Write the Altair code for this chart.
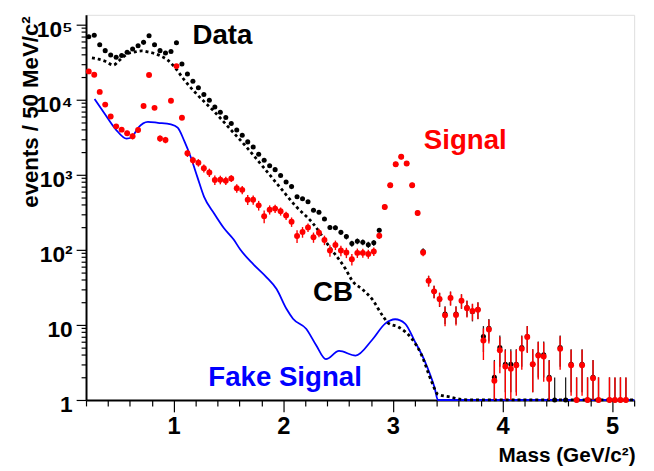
import altair as alt
import pandas as pd

# ---------------- data ----------------
mass = [0.225, 0.275, 0.325, 0.375, 0.425, 0.475, 0.525, 0.575, 0.625, 0.675,
        0.725, 0.775, 0.825, 0.875, 0.925, 0.975, 1.025, 1.075, 1.125, 1.175,
        1.225, 1.275, 1.325, 1.375, 1.425, 1.475, 1.525, 1.575, 1.625, 1.675,
        1.725, 1.775, 1.825, 1.875, 1.925, 1.975, 2.025, 2.075, 2.125, 2.175,
        2.225, 2.275, 2.325, 2.375, 2.425, 2.475, 2.525, 2.575, 2.625, 2.675,
        2.725, 2.775, 2.825, 2.875, 2.925, 2.975, 3.025, 3.075, 3.125, 3.175,
        3.225, 3.275, 3.325, 3.375, 3.425, 3.475, 3.525, 3.575, 3.625, 3.675,
        3.725, 3.775, 3.825, 3.875, 3.925, 3.975, 4.025, 4.075, 4.125, 4.175,
        4.225, 4.275, 4.325, 4.375, 4.425, 4.475, 4.525, 4.575, 4.625, 4.675,
        4.725, 4.775, 4.825, 4.875, 4.925, 4.975, 5.025, 5.075, 5.125, 5.175]

data_counts = [68900, 72300, 54000, 45000, 39400, 36800, 38700, 42800, 47300, 52400,
               58000, 71000, 54000, 45000, 41900, 43700, 57400, 29800, 22000, 17600,
               14400, 11700, 9800, 8000, 6800, 5800, 4830, 3950, 3360, 2740,
               2340, 1870, 1560, 1320, 1170, 980, 800, 695, 510, 480,
               437, 336, 316, 258, 199, 197, 171, 150, 121, 130,
               126, 117, 124, 182, 371, 723, 1380, 1740, 1410, 723,
               310, 95, 39, 28, 22, 14, 23, 14, 21, 17,
               15, 16, 7, 9, 2, 5, 3, 3, 3, 5,
               7, 3, 4, 4, 2, 1, 5, 1, 3, 1,
               3, 1, 2, 1, None, 1, 1, 1, 1, None]

signal_vals = [23800, 21500, 12700, 8600, 5980, 4410, 3990, 3570, 3260, 3950,
               8260, 21300, 7780, 3040, 2910, 9700, 28000, 5740, 1930, 1560,
               1450, 1220, 1070, 851, 859, 834, 894, 660, 629, 465,
               465, 391, 280, 343, 354, 326, 286, 236, 153, 173,
               199, 147, 169, 135, 98, 116, 98, 92, 75, 91,
               91, 88, 95, 154, 371, 723, 1380, 1740, 1410, 723,
               310, 92, 38.6, 28, 22.2, 13.4, 22.9, 13.6, 21, 16.7,
               15.3, 15.9, 6.2, 8.7, 1.8, 4.6, 2.8, 2.6, 2.9, 4.8,
               6.9, 3.0, 3.9, 3.8, 1.9, None, 4.8, None, 2.9, 1,
               2.9, 1, 1.95, 1, None, 1, 1, 1, 1, None]

cb_mass = [0.254, 0.315, 0.375, 0.450, 0.495, 0.540, 0.585, 0.645, 0.705, 0.765,
           0.826, 0.885, 0.946, 1.006, 1.096, 1.216, 1.367, 1.517, 1.667, 1.818,
           1.967, 2.118, 2.268, 2.418, 2.569, 2.629, 2.719, 2.810, 2.914, 2.960,
           3.049, 3.170, 3.260, 3.351, 3.410, 3.531, 3.621, 3.750, 4.000, 4.500,
           5.000, 5.200]
cb_vals = [36000, 34600, 32500, 28900, 32500, 37100, 41100, 43200, 44600, 43200,
           41100, 37900, 33600, 27400, 18300, 11600, 7010, 4030, 2310, 1260,
           687, 375, 227, 111, 55, 38.6, 30, 22, 12.7, 10.5,
           9.4, 6.6, 4.0, 1.78, 1.19, 1.09, 1.02, 1.0, 1.0, 1.0,
           1.0, 1.0]

fake_mass = [0.278, 0.375, 0.471, 0.570, 0.615, 0.675, 0.765, 0.856, 0.975, 1.036,
             1.096, 1.156, 1.216, 1.277, 1.367, 1.457, 1.547, 1.607, 1.727, 1.847,
             1.938, 2.028, 2.088, 2.208, 2.298, 2.388, 2.508, 2.659, 2.809, 2.929,
             3.020, 3.110, 3.200, 3.290, 3.380, 3.410, 3.600, 4.000, 4.500, 5.000,
             5.200]
fake_vals = [10200, 6350, 4030, 3030, 3130, 4230, 5070, 4920, 4690, 4230,
             2830, 1710, 930, 507, 307, 195, 137, 101, 64, 43,
             30, 16.4, 12.1, 8.9, 5.4, 3.5, 4.5, 3.9, 6.3, 10.4,
             11.9, 10.4, 6.0, 3.3, 1.45, 1.0, 1.0, 1.0, 1.0, 1.0,
             1.0]

label_text = ["Data", "Signal", "CB", "Fake Signal"]
label_color = ["#000000", "#ff0000", "#000000", "#0000ff"]
label_mass = [1.171, 3.281, 2.271, 1.315]
label_val = [55000, 2220, 21.1, 1.54]

# ---------------- tables ----------------
assert len(mass) == len(data_counts) == len(signal_vals)
pts = pd.DataFrame({"mass": mass, "data": data_counts, "sig": signal_vals})
cb = pd.DataFrame({"mass": cb_mass, "v": cb_vals})
fake = pd.DataFrame({"mass": fake_mass, "v": fake_vals})
labels = pd.DataFrame({"t": label_text, "c": label_color, "mass": label_mass, "v": label_val})

FONT = "Liberation Sans"

x_ticks = [round(0.2 * k, 1) for k in range(1, 27)]
y_ticks = []
for e in range(0, 6):
    for m in range(1, 10):
        val = m * 10 ** e
        if val <= 135000:
            y_ticks.append(val)

x_axis = alt.Axis(
    values=x_ticks,
    title="Mass (GeV/c\u00b2)",
    titleFont=FONT, titleFontWeight="bold", titleFontSize=21, titleColor="black",
    titleAnchor="end", titleAlign="right", titleBaseline="alphabetic",
    titleX=556, titleY=62,
    labelExpr="abs(datum.value - round(datum.value)) < 0.001 ? format(datum.value, 'd') : ''",
    labelFont=FONT, labelFontWeight="bold", labelFontSize=24, labelColor="black",
    labelBaseline="top", labelPadding=3, labelFlush=False, labelOverlap=False,
    tickSize={"condition": {"test": "abs(datum.value - round(datum.value)) < 0.001", "value": 12}, "value": 6},
    tickColor="black", tickWidth=1.2,
    domainColor="black", domainWidth=2, grid=False,
)

y_axis = alt.Axis(
    values=y_ticks,
    title="events / 50 MeV/c\u00b2",
    titleFont=FONT, titleFontWeight="bold", titleFontSize=22.5, titleColor="black",
    titleAngle=270, titleAnchor="end", titleAlign="right", titleBaseline="alphabetic",
    titleX=-49, titleY=1,
    labelExpr="datum.value == 1 ? '1' : datum.value == 10 ? '10' : datum.value == 100 ? '10\u00b2' : "
              "datum.value == 1000 ? '10\u00b3' : datum.value == 10000 ? '10\u2074' : "
              "datum.value == 100000 ? '10\u2075' : ''",
    labelFont=FONT, labelFontWeight="bold", labelFontSize=23, labelColor="black",
    labelBaseline="middle", labelPadding=4, labelOffset=5, labelFlush=False, labelOverlap=False,
    tickSize={"condition": {"test": "indexof([1,10,100,1000,10000,100000], datum.value) >= 0", "value": 10}, "value": 5},
    tickColor="black", tickWidth=1.2,
    domainColor="black", domainWidth=2, grid=False,
)

xs = alt.Scale(domain=[0.2, 5.2], nice=False, zero=False)
ys = alt.Scale(type="log", domain=[1, 135000], nice=False)

X = alt.X("mass:Q", scale=xs, axis=x_axis)

fake_line = alt.Chart(fake).mark_line(color="#0000ff", strokeWidth=1.8, interpolate="monotone").encode(
    x=X, y=alt.Y("v:Q", scale=ys, axis=y_axis)
)
cb_line = alt.Chart(cb).mark_line(color="black", strokeWidth=2.8, strokeDash=[3, 3],
                                  interpolate="monotone").encode(
    x=X, y=alt.Y("v:Q", scale=ys, axis=y_axis)
)

base = alt.Chart(pts)

data_err = base.transform_filter("isValid(datum.data)").transform_calculate(
    lo="max(datum.data - sqrt(datum.data), 1)",
    hi="datum.data + sqrt(datum.data)",
).mark_rule(color="#222222", strokeWidth=1.3).encode(
    x=X, y=alt.Y("lo:Q", scale=ys, axis=y_axis), y2="hi:Q"
)
data_pts = base.transform_filter("isValid(datum.data)").mark_circle(
    color="black", size=26, opacity=1).encode(
    x=X, y=alt.Y("data:Q", scale=ys, axis=y_axis)
)

sig_err = base.transform_filter("isValid(datum.sig)").transform_calculate(
    e="sqrt(max(2 * datum.data - datum.sig, datum.data))"
).transform_calculate(
    lo="max(datum.sig - datum.e, 1)",
    hi="datum.sig + datum.e",
).mark_rule(color="#ff0000", strokeWidth=1.4).encode(
    x=X, y=alt.Y("lo:Q", scale=ys, axis=y_axis), y2="hi:Q"
)
sig_pts = base.transform_filter("isValid(datum.sig)").mark_circle(
    color="#ff0000", size=36, opacity=1).encode(
    x=X, y=alt.Y("sig:Q", scale=ys, axis=y_axis)
)

text = alt.Chart(labels).mark_text(
    font=FONT, fontWeight="bold", fontSize=28, align="left", baseline="alphabetic"
).encode(
    x=X, y=alt.Y("v:Q", scale=ys, axis=y_axis), text="t:N", color=alt.Color("c:N", scale=None)
)

chart = alt.layer(fake_line, cb_line, data_err, data_pts, sig_err, sig_pts, text).properties(
    width=555, height=390,
    padding={"left": 79, "top": 4, "right": 12, "bottom": 69},
    autosize=alt.AutoSizeParams(type="none"),
).configure_view(stroke="black", strokeWidth=1.5).configure(background="white")

chart.save("out.html", embed_options={"renderer": "svg", "actions": False})
